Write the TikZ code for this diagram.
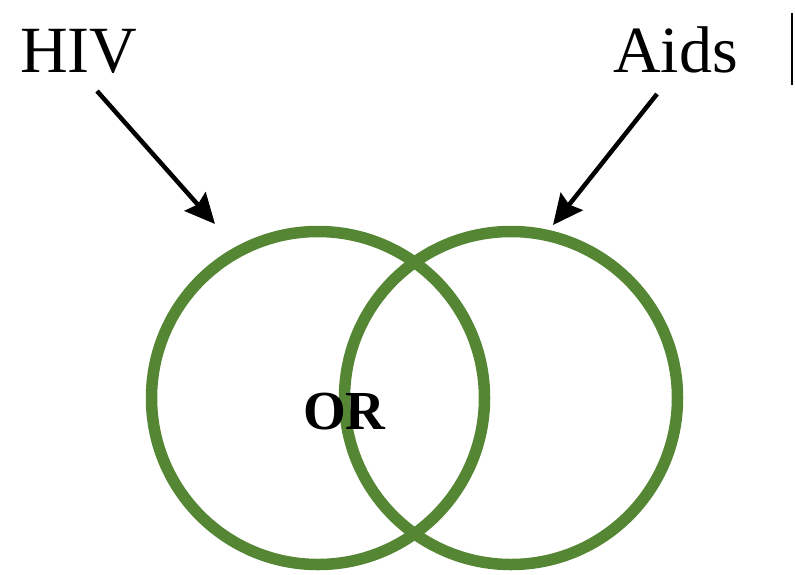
\documentclass[tikz,border=0pt]{standalone}
\usepackage{fontspec}
\setmainfont{Liberation Serif}
\usepackage{xcolor}
\usetikzlibrary{arrows.meta}
\definecolor{setgreen}{RGB}{84,134,52}

\begin{document}
\begin{tikzpicture}[x=1pt, y=-1pt, >=Stealth,
    set/.style={circle, draw=setgreen, line width=11.5pt, inner sep=0pt, minimum size=333pt},
    label/.style={anchor=base west, inner sep=0pt, font=\fontsize{66}{70}\selectfont},
    pointer/.style={->, line width=4.5pt, >={Stealth[length=30pt, width=28pt, inset=4pt]}}]
    \useasboundingbox (0,0) rectangle (795,574);

    \node[set] (hivset) at (318,398) {};
    \node[set] (aidsset) at (511,398) {};

    \node[label] (hiv) at (20,72) {HIV};
    \node[label] (aids) at (613,72) {Aids};
    \node[anchor=base west, inner sep=0pt, font=\bfseries\fontsize{55}{58}\selectfont] (or) at (303,429) {OR};

    \coordinate (hivtail) at (97,91);
    \coordinate (hivtip) at (215,224);
    \coordinate (aidstail) at (657,94);
    \coordinate (aidstip) at (553,225);

    \draw[pointer] (hivtail) -- (hivtip);
    \draw[pointer] (aidstail) -- (aidstip);

    % text cursor
    \draw[line width=2pt] (792,13) -- (792,85);
\end{tikzpicture}
\end{document}
